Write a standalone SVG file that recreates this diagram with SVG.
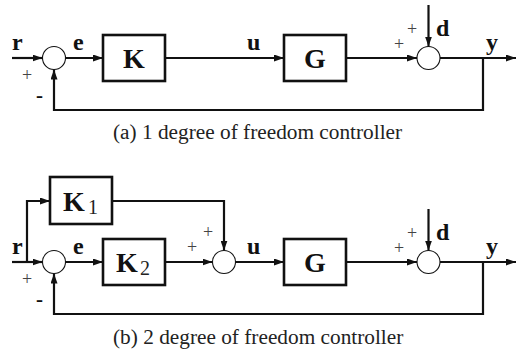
<svg xmlns="http://www.w3.org/2000/svg" width="516" height="355" viewBox="0 0 516 355">
<defs>
<marker id="ah" viewBox="0 0 10 7" refX="10" refY="3.5" markerWidth="10" markerHeight="7" markerUnits="userSpaceOnUse" orient="auto">
<path d="M0,0 L10,3.5 L0,7 z" fill="#111"/>
</marker>
<style>
.blk{fill:#fff;stroke:#111;stroke-width:2.6}
.sum{fill:#fff;stroke:#111;stroke-width:1.1}
.w{fill:none;stroke:#111;stroke-width:2.2;marker-end:url(#ah)}
.bt{font-family:"Liberation Serif",serif;font-weight:bold;font-size:28px;fill:#111;text-anchor:middle}
.sub{font-family:"Liberation Serif",serif;font-size:20px;fill:#222}
.lb{font-family:"Liberation Serif",serif;font-weight:bold;font-size:24px;fill:#111}
.pl{font-family:"Liberation Serif",serif;font-size:18px;fill:#444;text-anchor:middle}
.mi{font-family:"Liberation Serif",serif;font-weight:bold;font-size:21px;fill:#111;text-anchor:middle}
.cap{font-family:"Liberation Serif",serif;font-size:21.3px;fill:#222}
</style>
</defs>
<g id="connectors">
<path class="w" d="M12,58 H42.5"/>
<path class="w" d="M65.5,58 H103"/>
<path class="w" d="M165,58 H284"/>
<path class="w" d="M346,58 H417"/>
<path class="w" d="M428.5,5 V46.5"/>
<path class="w" d="M440,58 H516"/>
<path class="w" d="M483,58 V110 H54 V69.5"/>
<path class="w" d="M12,262 H42.5"/>
<path class="w" d="M27,262 V201 H50"/>
<path class="w" d="M112,201 H224 V250.5"/>
<path class="w" d="M65.5,262 H103"/>
<path class="w" d="M165,262 H212.5"/>
<path class="w" d="M235.5,262 H284"/>
<path class="w" d="M346,262 H417"/>
<path class="w" d="M428.5,209 V250.5"/>
<path class="w" d="M440,262 H516"/>
<path class="w" d="M483,262 V314 H54 V273.5"/>
</g>
<g id="sum1a"><circle class="sum" cx="54" cy="58" r="11.5"/></g>
<g id="Ka"><rect class="blk" x="103" y="35" width="62" height="46"/><text class="bt" x="134" y="68">K</text></g>
<g id="Ga"><rect class="blk" x="284" y="35" width="62" height="46"/><text class="bt" x="315" y="68">G</text></g>
<g id="sum2a"><circle class="sum" cx="428.5" cy="58" r="11.5"/></g>
<g id="sum1b"><circle class="sum" cx="54" cy="262" r="11.5"/></g>
<g id="K1"><rect class="blk" x="50" y="177" width="62" height="47"/><text class="bt" x="74" y="211">K</text><text class="sub" x="88" y="214">1</text></g>
<g id="K2"><rect class="blk" x="103" y="239" width="62" height="46"/><text class="bt" x="127" y="272">K</text><text class="sub" x="140" y="275">2</text></g>
<g id="sum2b"><circle class="sum" cx="224" cy="262" r="11.5"/></g>
<g id="Gb"><rect class="blk" x="284" y="239" width="62" height="46"/><text class="bt" x="315" y="272">G</text></g>
<g id="sum3b"><circle class="sum" cx="428.5" cy="262" r="11.5"/></g>
<g id="labels">
<text class="lb" x="12" y="50">r</text>
<text class="lb" x="73" y="50">e</text>
<text class="lb" x="247" y="50">u</text>
<text class="lb" x="486" y="50">y</text>
<text class="lb" x="436" y="36">d</text>
<text class="pl" x="27" y="81">+</text>
<text class="mi" x="39.5" y="102">-</text>
<text class="pl" x="399" y="50">+</text>
<text class="pl" x="412" y="35">+</text>
<text class="lb" x="12" y="254">r</text>
<text class="lb" x="73" y="254">e</text>
<text class="lb" x="247" y="254">u</text>
<text class="lb" x="486" y="254">y</text>
<text class="lb" x="436" y="240">d</text>
<text class="pl" x="27" y="285">+</text>
<text class="mi" x="39.5" y="306">-</text>
<text class="pl" x="192" y="253">+</text>
<text class="pl" x="208" y="238">+</text>
<text class="pl" x="399" y="254">+</text>
<text class="pl" x="412" y="239">+</text>
</g>
<text class="cap" x="113" y="139">(a)  1 degree of freedom controller</text>
<text class="cap" x="113" y="344">(b)  2 degree of freedom controller</text>
</svg>
